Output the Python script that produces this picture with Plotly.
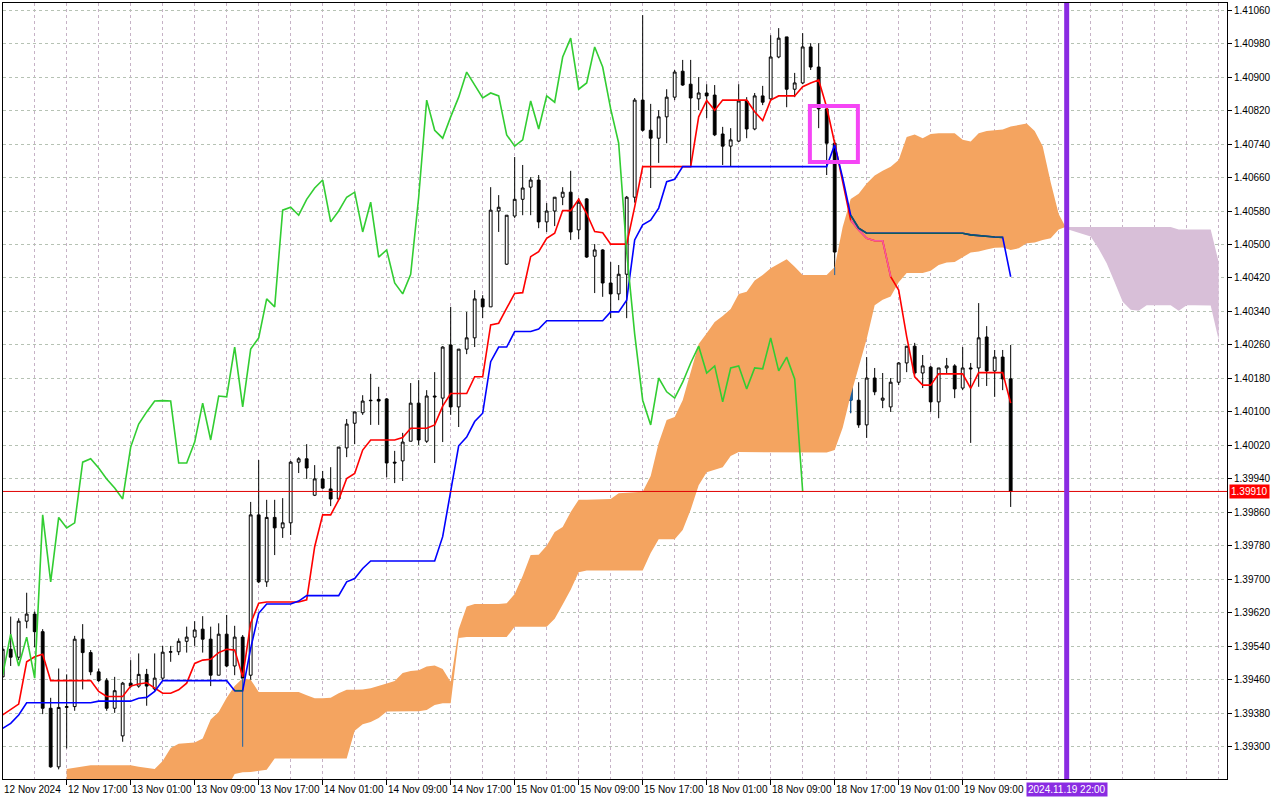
import plotly.graph_objects as go

# ---------------- data (H1 bars, index 0 = 12 Nov 09:00) ----------------
tick_index = [0, 8, 16, 24, 32, 40, 48, 56, 64, 72, 80, 88, 96, 104, 112, 120]
tick_labels = ["12 Nov 2024", "12 Nov 17:00", "13 Nov 01:00", "13 Nov 09:00", "13 Nov 17:00",
               "14 Nov 01:00", "14 Nov 09:00", "14 Nov 17:00", "15 Nov 01:00", "15 Nov 09:00",
               "15 Nov 17:00", "18 Nov 01:00", "18 Nov 09:00", "18 Nov 17:00", "19 Nov 01:00",
               "19 Nov 09:00"]

opens = [
    1.39467, 1.39533, 1.39514, 1.39600, 1.39617, 1.39575, 1.39392, 1.39252, 1.39394, 1.39396,
    1.39557, 1.39525, 1.39479, 1.39458, 1.39392, 1.39326, 1.39452, 1.39445, 1.39473, 1.39438,
    1.39464, 1.39526, 1.39527, 1.39552, 1.39562, 1.39581, 1.39557, 1.39471, 1.39569, 1.39493,
    1.39562, 1.39471, 1.39854, 1.39694, 1.39848, 1.39823, 1.39835, 1.39980, 1.39988, 1.39901,
    1.39940, 1.39916, 1.39892, 1.40014, 1.40073, 1.40098, 1.40128, 1.40130, 1.40131, 1.39980,
    1.39983, 1.40030, 1.40121, 1.40030, 1.40138, 1.40133, 1.40260, 1.40112, 1.40250, 1.40277,
    1.40370, 1.40351, 1.40580, 1.40453, 1.40568, 1.40608, 1.40637, 1.40654, 1.40554, 1.40580,
    1.40613, 1.40625, 1.40535, 1.40609, 1.40472, 1.40487, 1.40408, 1.40382, 1.40429, 1.40613,
    1.40845, 1.40773, 1.40754, 1.40805, 1.40852, 1.40914, 1.40883, 1.40848, 1.40862, 1.40857,
    1.40764, 1.40735, 1.40747, 1.40843, 1.40776, 1.40855, 1.40848, 1.40948, 1.40996, 1.40871,
    1.40886, 1.40972, 1.40924, 1.40824, 1.40742, 1.40482, 1.40286, 1.40128, 1.40069, 1.40181,
    1.40128, 1.40112, 1.40171, 1.40217, 1.40257, 1.40193, 1.40207, 1.40124, 1.40205, 1.40210,
    1.40157, 1.40205, 1.40205, 1.40279, 1.40198, 1.40231, 1.40179]
highs = [
    1.39538, 1.39611, 1.39607, 1.39668, 1.39623, 1.39581, 1.39417, 1.39487, 1.39473, 1.39565,
    1.39593, 1.39531, 1.39487, 1.39464, 1.39467, 1.39455, 1.39507, 1.39523, 1.39486, 1.39523,
    1.39541, 1.39541, 1.39559, 1.39587, 1.39600, 1.39612, 1.39587, 1.39595, 1.39615, 1.39589,
    1.39567, 1.39885, 1.39985, 1.39890, 1.39890, 1.39894, 1.39983, 1.39992, 1.40023, 1.39973,
    1.39959, 1.39968, 1.40016, 1.40083, 1.40100, 1.40140, 1.40191, 1.40160, 1.40133, 1.40007,
    1.40050, 1.40169, 1.40176, 1.40152, 1.40195, 1.40257, 1.40351, 1.40250, 1.40339, 1.40391,
    1.40379, 1.40637, 1.40618, 1.40570, 1.40709, 1.40690, 1.40661, 1.40666, 1.40599, 1.40613,
    1.40637, 1.40676, 1.40611, 1.40611, 1.40501, 1.40489, 1.40458, 1.40451, 1.40616, 1.40850,
    1.41048, 1.40836, 1.40821, 1.40871, 1.40917, 1.40941, 1.40941, 1.40900, 1.40883, 1.40881,
    1.40781, 1.40778, 1.40883, 1.40852, 1.40862, 1.40879, 1.41000, 1.41017, 1.40996, 1.40910,
    1.41005, 1.40981, 1.40981, 1.40833, 1.40750, 1.40506, 1.40324, 1.40171, 1.40231, 1.40205,
    1.40193, 1.40181, 1.40219, 1.40257, 1.40265, 1.40236, 1.40210, 1.40205, 1.40229, 1.40214,
    1.40255, 1.40217, 1.40360, 1.40305, 1.40248, 1.40248, 1.40260]
lows = [
    1.39466, 1.39493, 1.39507, 1.39583, 1.39538, 1.39378, 1.39250, 1.39246, 1.39296, 1.39386,
    1.39437, 1.39471, 1.39455, 1.39386, 1.39381, 1.39312, 1.39441, 1.39441, 1.39398, 1.39434,
    1.39458, 1.39503, 1.39519, 1.39525, 1.39541, 1.39525, 1.39445, 1.39471, 1.39490, 1.39471,
    1.39300, 1.39460, 1.39691, 1.39682, 1.39758, 1.39799, 1.39806, 1.39954, 1.39940, 1.39899,
    1.39916, 1.39875, 1.39892, 1.39992, 1.40023, 1.40093, 1.40069, 1.40069, 1.39944, 1.39930,
    1.39935, 1.40030, 1.40021, 1.40026, 1.39978, 1.40028, 1.40093, 1.40064, 1.40238, 1.40255,
    1.40324, 1.40351, 1.40530, 1.40451, 1.40563, 1.40570, 1.40570, 1.40539, 1.40530, 1.40544,
    1.40594, 1.40511, 1.40513, 1.40468, 1.40384, 1.40375, 1.40324, 1.40367, 1.40324, 1.40600,
    1.40770, 1.40635, 1.40695, 1.40742, 1.40845, 1.40879, 1.40685, 1.40821, 1.40802, 1.40759,
    1.40690, 1.40687, 1.40745, 1.40754, 1.40773, 1.40833, 1.40843, 1.40945, 1.40828, 1.40852,
    1.40883, 1.40917, 1.40778, 1.40666, 1.40427, 1.40281, 1.40097, 1.40062, 1.40038, 1.40140,
    1.40109, 1.40100, 1.40164, 1.40195, 1.40188, 1.40157, 1.40100, 1.40085, 1.40193, 1.40133,
    1.40152, 1.40026, 1.40160, 1.40162, 1.40136, 1.40152, 1.39873]
closes = [
    1.39533, 1.39514, 1.39600, 1.39617, 1.39575, 1.39392, 1.39252, 1.39394, 1.39396, 1.39557,
    1.39525, 1.39479, 1.39458, 1.39392, 1.39434, 1.39452, 1.39445, 1.39473, 1.39445, 1.39464,
    1.39526, 1.39527, 1.39552, 1.39562, 1.39579, 1.39557, 1.39471, 1.39569, 1.39493, 1.39562,
    1.39464, 1.39854, 1.39694, 1.39848, 1.39823, 1.39835, 1.39980, 1.39988, 1.39966, 1.39940,
    1.39918, 1.39892, 1.40016, 1.40071, 1.40100, 1.40126, 1.40127, 1.40126, 1.39978, 1.39978,
    1.40028, 1.40121, 1.40033, 1.40138, 1.40136, 1.40255, 1.40112, 1.40250, 1.40277, 1.40370,
    1.40351, 1.40582, 1.40589, 1.40570, 1.40608, 1.40635, 1.40654, 1.40554, 1.40580, 1.40613,
    1.40625, 1.40530, 1.40601, 1.40470, 1.40487, 1.40408, 1.40382, 1.40429, 1.40613, 1.40845,
    1.40773, 1.40754, 1.40805, 1.40852, 1.40912, 1.40881, 1.40850, 1.40862, 1.40855, 1.40762,
    1.40735, 1.40750, 1.40843, 1.40776, 1.40855, 1.40840, 1.40948, 1.40993, 1.40871, 1.40886,
    1.40972, 1.40924, 1.40824, 1.40742, 1.40482, 1.40286, 1.40128, 1.40069, 1.40181, 1.40148,
    1.40133, 1.40171, 1.40217, 1.40257, 1.40193, 1.40210, 1.40124, 1.40205, 1.40210, 1.40155,
    1.40205, 1.40203, 1.40277, 1.40198, 1.40231, 1.40179, 1.39910]

tenkan_sen = [
    1.39376, 1.39388, 1.39402, 1.39503, 1.39515, 1.39521, 1.39458, 1.39458, 1.39458, 1.39458,
    1.39458, 1.39458, 1.39432, 1.39420, 1.39420, 1.39420, 1.39445, 1.39450, 1.39453, 1.39440,
    1.39428, 1.39428, 1.39436, 1.39452, 1.39499, 1.39507, 1.39509, 1.39525, 1.39533, 1.39531,
    1.39467, 1.39595, 1.39643, 1.39646, 1.39646, 1.39646, 1.39646, 1.39646, 1.39651, 1.39778,
    1.39854, 1.39854, 1.39890, 1.39941, 1.39953, 1.40009, 1.40033, 1.40033, 1.40033, 1.40033,
    1.40039, 1.40061, 1.40061, 1.40061, 1.40069, 1.40114, 1.40144, 1.40144, 1.40144, 1.40184,
    1.40184, 1.40308, 1.40312, 1.40348, 1.40383, 1.40385, 1.40471, 1.40483, 1.40515, 1.40527,
    1.40581, 1.40581, 1.40608, 1.40574, 1.40531, 1.40528, 1.40501, 1.40501, 1.40501, 1.40590,
    1.40686, 1.40686, 1.40686, 1.40686, 1.40686, 1.40686, 1.40686, 1.40805, 1.40844, 1.40821,
    1.40845, 1.40845, 1.40845, 1.40845, 1.40817, 1.40796, 1.40845, 1.40855, 1.40855, 1.40855,
    1.40877, 1.40886, 1.40893, 1.40828, 1.40742, 1.40654, 1.40558, 1.40535, 1.40515, 1.40509,
    1.40509, 1.40423, 1.40391, 1.40280, 1.40184, 1.40164, 1.40164, 1.40191, 1.40191, 1.40191,
    1.40191, 1.40156, 1.40194, 1.40194, 1.40194, 1.40194, 1.40121]
kijun_sen = [
    1.39344, 1.39356, 1.39376, 1.39405, 1.39405, 1.39405, 1.39405, 1.39405, 1.39405, 1.39405,
    1.39405, 1.39405, 1.39409, 1.39409, 1.39409, 1.39409, 1.39409, 1.39416, 1.39418, 1.39432,
    1.39458, 1.39458, 1.39458, 1.39458, 1.39458, 1.39458, 1.39458, 1.39458, 1.39458, 1.39434,
    1.39434, 1.39535, 1.39619, 1.39641, 1.39641, 1.39641, 1.39641, 1.39648, 1.39661, 1.39661,
    1.39661, 1.39661, 1.39661, 1.39694, 1.39702, 1.39726, 1.39744, 1.39744, 1.39744, 1.39744,
    1.39744, 1.39744, 1.39744, 1.39744, 1.39744, 1.39802, 1.39906, 1.40019, 1.40040, 1.40077,
    1.40097, 1.40220, 1.40255, 1.40255, 1.40292, 1.40292, 1.40292, 1.40298, 1.40318, 1.40318,
    1.40318, 1.40318, 1.40318, 1.40318, 1.40318, 1.40318, 1.40339, 1.40339, 1.40367, 1.40511,
    1.40547, 1.40558, 1.40587, 1.40650, 1.40656, 1.40686, 1.40686, 1.40686, 1.40686, 1.40686,
    1.40686, 1.40686, 1.40686, 1.40686, 1.40686, 1.40686, 1.40686, 1.40686, 1.40686, 1.40686,
    1.40686, 1.40686, 1.40686, 1.40686, 1.40738, 1.40659, 1.40570, 1.40539, 1.40527, 1.40527,
    1.40527, 1.40527, 1.40527, 1.40527, 1.40527, 1.40527, 1.40527, 1.40527, 1.40527, 1.40527,
    1.40527, 1.40523, 1.40521, 1.40520, 1.40518, 1.40517, 1.40423]

chikou_shift = 26          # Chikou span = close plotted 26 bars back
cloud_start = 8            # first bar index of the visible Kumo arrays
senkou_span_a = [
    1.39247, 1.39250, 1.39254, 1.39256, 1.39256, 1.39256, 1.39256, 1.39256, 1.39256, 1.39252,  # 8-17
    1.39249, 1.39247, 1.39266, 1.39297, 1.39307, 1.39309, 1.39310, 1.39320, 1.39365, 1.39383,  # 18-27
    1.39417, 1.39445, 1.39464, 1.39460, 1.39431, 1.39431, 1.39431, 1.39431, 1.39431, 1.39431,  # 28-37
    1.39423, 1.39416, 1.39416, 1.39417, 1.39428, 1.39436, 1.39436, 1.39437, 1.39440, 1.39445,  # 38-47
    1.39451, 1.39457, 1.39476, 1.39481, 1.39483, 1.39492, 1.39494, 1.39486, 1.39455, 1.39581,  # 48-57
    1.39635, 1.39641, 1.39641, 1.39641, 1.39641, 1.39643, 1.39665, 1.39708, 1.39758, 1.39759,  # 58-67
    1.39780, 1.39813, 1.39825, 1.39861, 1.39890, 1.39890, 1.39891, 1.39891, 1.39892, 1.39906,  # 68-77
    1.39907, 1.39909, 1.39909, 1.39947, 1.40026, 1.40081, 1.40088, 1.40128, 1.40195, 1.40262,  # 78-87
    1.40288, 1.40315, 1.40329, 1.40346, 1.40382, 1.40387, 1.40414, 1.40427, 1.40443, 1.40455,  # 88-97
    1.40465, 1.40447, 1.40427, 1.40427, 1.40427, 1.40427, 1.40446, 1.40542, 1.40609, 1.40621,  # 98-107
    1.40646, 1.40665, 1.40676, 1.40686, 1.40702, 1.40757, 1.40763, 1.40754, 1.40764, 1.40766,  # 108-117
    1.40766, 1.40766, 1.40750, 1.40746, 1.40766, 1.40771, 1.40773, 1.40775, 1.40782, 1.40785,  # 118-127
    1.40789, 1.40771, 1.40735, 1.40649, 1.40573, 1.40537, 1.40531, 1.40525, 1.40519, 1.40490,  # 128-137
    1.40455, 1.40410, 1.40363, 1.40344, 1.40342, 1.40355, 1.40355, 1.40355, 1.40355, 1.40342,  # 138-147
    1.40355, 1.40355, 1.40355, 1.40354, 1.40272]                                               # 148-152
senkou_span_b = [
    1.39200, 1.39200, 1.39200, 1.39200, 1.39200, 1.39200, 1.39200, 1.39200, 1.39200, 1.39200,  # 8-17
    1.39200, 1.39200, 1.39200, 1.39200, 1.39200, 1.39200, 1.39200, 1.39200, 1.39200, 1.39200,  # 18-27
    1.39200, 1.39235, 1.39239, 1.39240, 1.39242, 1.39245, 1.39272, 1.39272, 1.39272, 1.39272,  # 28-37
    1.39272, 1.39272, 1.39272, 1.39272, 1.39272, 1.39272, 1.39338, 1.39354, 1.39359, 1.39369,  # 38-47
    1.39384, 1.39385, 1.39385, 1.39385, 1.39385, 1.39388, 1.39400, 1.39404, 1.39404, 1.39560,  # 48-57
    1.39562, 1.39562, 1.39562, 1.39562, 1.39562, 1.39562, 1.39587, 1.39587, 1.39587, 1.39587,  # 58-67
    1.39587, 1.39606, 1.39640, 1.39675, 1.39717, 1.39721, 1.39721, 1.39721, 1.39721, 1.39721,  # 68-77
    1.39721, 1.39721, 1.39721, 1.39763, 1.39796, 1.39796, 1.39796, 1.39818, 1.39866, 1.39925,  # 78-87
    1.39956, 1.39962, 1.39968, 1.39995, 1.40004, 1.40003, 1.40003, 1.40003, 1.40003, 1.40003,  # 88-97
    1.40003, 1.40003, 1.40003, 1.40003, 1.40003, 1.40003, 1.40009, 1.40062, 1.40140, 1.40207,  # 98-107
    1.40274, 1.40355, 1.40368, 1.40376, 1.40410, 1.40432, 1.40432, 1.40432, 1.40437, 1.40451,  # 108-117
    1.40457, 1.40458, 1.40470, 1.40481, 1.40483, 1.40488, 1.40492, 1.40493, 1.40487, 1.40491,  # 118-127
    1.40503, 1.40505, 1.40511, 1.40515, 1.40536, 1.40543, 1.40542, 1.40542, 1.40542, 1.40542,  # 128-137
    1.40542, 1.40542, 1.40542, 1.40542, 1.40542, 1.40542, 1.40542, 1.40542, 1.40542, 1.40536,  # 138-147
    1.40536, 1.40536, 1.40536, 1.40536, 1.40458]                                               # 148-152

price_ticks = [1.39300, 1.39380, 1.39460, 1.39540, 1.39620, 1.39700, 1.39780, 1.39860,
               1.39940, 1.40020, 1.40100, 1.40180, 1.40260, 1.40340, 1.40420, 1.40500,
               1.40580, 1.40660, 1.40740, 1.40820, 1.40900, 1.40980, 1.41060]

marker_index = 133                     # vertical line at 2024.11.19 22:00
marker_label = "2024.11.19 22:00"
highlight_index = [100.9, 106.9]       # magenta box (bar index range)
highlight_price = [1.40697, 1.40831]   # magenta box (price range)

x_range = [0.04, 153.04]
y_range = [1.39223, 1.41077]

# ---------------- colours ----------------
C_TENKAN, C_KIJUN, C_CHIKOU = "#ff0000", "#0000ff", "#32cd32"
C_KUMO_UP, C_KUMO_DN = "#f4a460", "#d8bfd8"
C_IN_BLACK, C_IN_BLUE, C_IN_RED = "#1862a8", "#0b5b60", "#f45b9f"
GRID_V, GRID_H = "#c6b2c6", "#b6c2b4"
FONT = "Liberation Sans, Arial, sans-serif"

n = len(closes)
assert all(len(a) == n for a in (opens, highs, lows, tenkan_sen, kijun_sen))
assert len(senkou_span_a) == len(senkou_span_b)
idx = list(range(n))
cloud_x = list(range(cloud_start, cloud_start + len(senkou_span_a)))


def cloud_bounds(i):
    k = i - cloud_start
    if 0 <= k < len(senkou_span_a):
        a, b = senkou_span_a[k], senkou_span_b[k]
        return min(a, b), max(a, b)
    return None


def inside(i, v):
    cb = cloud_bounds(i)
    return cb is not None and cb[0] <= v <= cb[1]


fig = go.Figure()

# ---------------- Kumo (split where span A and B cross) ----------------
polys = []
seg_x, seg_a, seg_b, sign = [], [], [], None
for j, xv in enumerate(cloud_x):
    a, b = senkou_span_a[j], senkou_span_b[j]
    s = a >= b
    if sign is None:
        sign = s
    elif s != sign:
        d0 = senkou_span_a[j - 1] - senkou_span_b[j - 1]
        d1 = a - b
        t = d0 / (d0 - d1)
        xc = cloud_x[j - 1] + t
        yc = senkou_span_a[j - 1] + t * (a - senkou_span_a[j - 1])
        seg_x.append(xc); seg_a.append(yc); seg_b.append(yc)
        polys.append((sign, seg_x, seg_a, seg_b))
        seg_x, seg_a, seg_b = [xc], [yc], [yc]
        sign = s
    seg_x.append(xv); seg_a.append(a); seg_b.append(b)
polys.append((sign, seg_x, seg_a, seg_b))

for up, px, pa, pb in polys:
    fig.add_trace(go.Scatter(
        x=px + px[::-1], y=pa + pb[::-1], mode="lines", fill="toself",
        fillcolor=C_KUMO_UP if up else C_KUMO_DN, line=dict(width=0),
        hoverinfo="skip", showlegend=False))

# ---------------- candles ----------------
fig.add_trace(go.Candlestick(
    x=idx, open=opens, high=highs, low=lows, close=closes,
    increasing=dict(line=dict(color="black", width=1), fillcolor="white"),
    decreasing=dict(line=dict(color="black", width=1), fillcolor="black"),
    whiskerwidth=0, hoverinfo="skip", showlegend=False))

in_cloud = [i for i in idx if inside(i, (opens[i] + closes[i]) / 2)]
if in_cloud:
    fig.add_trace(go.Candlestick(
        x=in_cloud, open=[opens[i] for i in in_cloud], high=[highs[i] for i in in_cloud],
        low=[lows[i] for i in in_cloud], close=[closes[i] for i in in_cloud],
        increasing=dict(line=dict(color=C_IN_BLACK, width=1), fillcolor=C_IN_BLACK),
        decreasing=dict(line=dict(color=C_IN_BLACK, width=1), fillcolor=C_IN_BLACK),
        whiskerwidth=0, hoverinfo="skip", showlegend=False))

# wick parts covered by the Kumo
wx, wy = [], []
for i in idx:
    cb = cloud_bounds(i)
    if cb is None or i in in_cloud:
        continue
    lo, hi = max(lows[i], cb[0]), min(highs[i], cb[1])
    body_lo, body_hi = min(opens[i], closes[i]), max(opens[i], closes[i])
    for s0, s1 in ((lo, min(hi, body_lo)), (max(lo, body_hi), hi)):
        if s1 > s0:
            wx += [i, i, None]; wy += [s0, s1, None]
fig.add_trace(go.Scatter(x=wx, y=wy, mode="lines", line=dict(color=C_IN_BLACK, width=1),
                         hoverinfo="skip", showlegend=False))

# ---------------- Tenkan / Kijun ----------------
fig.add_trace(go.Scatter(x=idx, y=tenkan_sen, mode="lines", line=dict(color=C_TENKAN, width=1.6),
                         hoverinfo="skip", showlegend=False))
fig.add_trace(go.Scatter(x=idx, y=[v if inside(i, v) else None for i, v in enumerate(tenkan_sen)],
                         mode="lines", line=dict(color=C_IN_RED, width=1.6),
                         hoverinfo="skip", showlegend=False))
fig.add_trace(go.Scatter(x=idx, y=kijun_sen, mode="lines", line=dict(color=C_KIJUN, width=1.6),
                         hoverinfo="skip", showlegend=False))
fig.add_trace(go.Scatter(x=idx, y=[v if inside(i, v) else None for i, v in enumerate(kijun_sen)],
                         mode="lines", line=dict(color=C_IN_BLUE, width=1.6),
                         hoverinfo="skip", showlegend=False))

# ---------------- Chikou ----------------
fig.add_trace(go.Scatter(x=idx[:n - chikou_shift], y=closes[chikou_shift:], mode="lines",
                         line=dict(color=C_CHIKOU, width=1.6), hoverinfo="skip", showlegend=False))

# ---------------- shapes & labels ----------------
last_price = closes[-1]
fig.add_shape(type="line", xref="paper", x0=0, x1=1, yref="y", y0=last_price, y1=last_price,
              line=dict(color="#e00000", width=1))
fig.add_shape(type="line", xref="x", x0=marker_index, x1=marker_index, yref="paper", y0=0, y1=1,
              line=dict(color="#8a2be2", width=5))
fig.add_shape(type="rect", xref="x", yref="y", x0=highlight_index[0], x1=highlight_index[1],
              y0=highlight_price[0], y1=highlight_price[1],
              line=dict(color="#f545f5", width=4), fillcolor="rgba(0,0,0,0)")

for xi, txt in zip(tick_index, tick_labels):
    fig.add_annotation(x=max(xi, x_range[0]), y=0, xref="x", yref="paper", text=txt,
                       showarrow=False, xanchor="left", yanchor="top", yshift=-3, xshift=-1,
                       font=dict(family=FONT, size=10, color="black"))
fig.add_annotation(x=marker_index, y=0, xref="x", yref="paper", text=marker_label, showarrow=False,
                   xanchor="center", yanchor="top", yshift=-3, bgcolor="#8a2be2", borderpad=1,
                   font=dict(family=FONT, size=10, color="white"))
fig.add_annotation(x=1, y=last_price, xref="paper", yref="y", text=f"{last_price:.5f}",
                   showarrow=False, xanchor="left", yanchor="middle", xshift=2,
                   bgcolor="#ff0000", borderpad=1, font=dict(family=FONT, size=10, color="white"))

fig.update_layout(
    width=1280, height=800, autosize=False,
    margin=dict(l=3, r=53, t=3, b=21, pad=0),
    paper_bgcolor="white", plot_bgcolor="white",
    showlegend=False, hovermode=False, boxgap=0.5,
    font=dict(family=FONT, size=10, color="black"),
    xaxis=dict(range=x_range, rangeslider=dict(visible=False), tickmode="array",
               tickvals=tick_index, showticklabels=False, ticks="outside", ticklen=5,
               tickcolor="black", showgrid=True, gridcolor=GRID_V, griddash="3px,3px",
               gridwidth=1, zeroline=False, showline=True, linecolor="black", linewidth=1,
               mirror=True,
               minor=dict(tickmode="linear", tick0=0, dtick=4, showgrid=True,
                          gridcolor=GRID_V, griddash="3px,3px", ticks="")),
    yaxis=dict(range=y_range, side="right", tickmode="array", tickvals=price_ticks,
               ticktext=[f"{p:.5f}" for p in price_ticks], ticks="outside", ticklen=4,
               tickcolor="black", showgrid=True, gridcolor=GRID_H, griddash="3px,3px",
               zeroline=False, showline=True, linecolor="black", linewidth=1, mirror=True,
               tickfont=dict(family=FONT, size=10, color="black")),
)

fig.write_html("out.html", config={"displayModeBar": False},
               post_script="document.body.style.margin='0px';")
